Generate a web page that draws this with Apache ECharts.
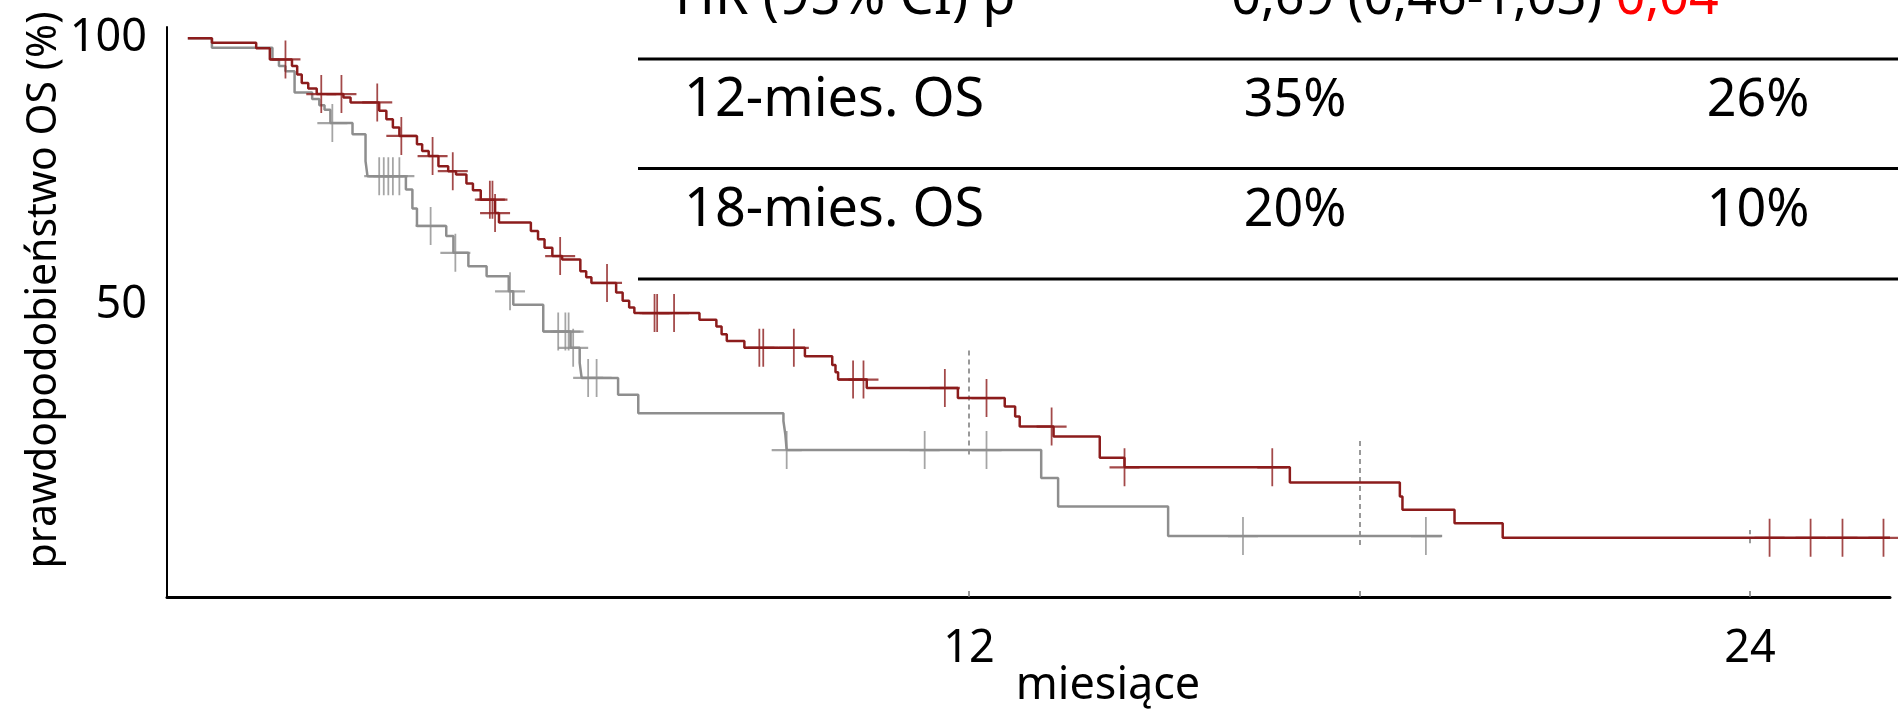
<!DOCTYPE html>
<html>
<head>
<meta charset="utf-8">
<script src="https://cdn.jsdelivr.net/npm/echarts@6/dist/echarts.min.js"></script>
<style>
html,body{margin:0;padding:0;background:#fff;}
#chart{width:1898px;height:711px;}
</style>
</head>
<body>
<div id="chart"></div>
<script>
// ---- Kaplan-Meier step data (months, % surviving) ----
const redT = [0, 0.37, 1.05, 1.26, 1.60, 1.68, 1.75, 1.85, 1.98, 2.39, 2.50, 2.94, 3.05, 3.15, 3.25, 3.52, 3.60, 3.70, 3.85, 4.00, 4.12, 4.28, 4.38, 4.50, 4.72, 4.78, 5.27, 5.38, 5.48, 5.60, 5.75, 6.03, 6.12, 6.20, 6.58, 6.68, 6.78, 6.86, 7.86, 8.12, 8.20, 8.28, 8.55, 9.48, 9.90, 9.95, 9.99, 10.43, 11.83, 12.55, 12.71, 12.78, 13.30, 14.01, 14.39, 16.93, 18.62, 18.66, 19.46, 20.20, 26.15];
const redS = [100, 99.2, 98.2, 96.2, 95.0, 93.5, 92.0, 91.0, 90.0, 89.4, 88.5, 87.0, 85.5, 84.0, 82.5, 81.0, 79.8, 78.9, 77.1, 76.2, 75.6, 74.0, 72.8, 71.1, 68.7, 67.0, 65.5, 64.0, 62.5, 61.0, 60.4, 58.3, 57.2, 56.2, 54.5, 53.0, 51.8, 50.8, 49.6, 48.4, 47.0, 45.8, 44.6, 43.1, 41.5, 40.2, 38.9, 37.4, 35.6, 34.1, 32.3, 30.5, 28.7, 24.9, 23.2, 20.5, 18.0, 15.6, 13.2, 10.6, 10.6];
const grayT = [0, 0.37, 1.30, 1.40, 1.50, 1.64, 1.91, 2.02, 2.10, 2.19, 2.53, 2.73, 2.76, 3.35, 3.45, 3.52, 3.97, 4.08, 4.31, 4.59, 4.93, 5.00, 5.46, 5.88, 6.02, 6.05, 6.61, 6.92, 9.15, 9.18, 9.20, 13.11, 13.37, 15.06, 19.27];
const grayS = [100, 98.3, 96.2, 95.0, 94.1, 90.3, 89.1, 88.0, 87.2, 84.8, 82.8, 78.0, 75.3, 72.9, 69.5, 66.4, 64.6, 61.6, 59.2, 57.4, 54.7, 52.3, 47.5, 44.6, 41.9, 39.2, 36.2, 32.9, 31.5, 29.0, 26.3, 21.3, 16.2, 10.9, 10.9];
// censored observations (months)
const redCensorT = [1.50, 2.05, 2.36, 2.91, 3.28, 3.76, 4.07, 4.64, 4.68, 4.72, 5.72, 6.44, 7.17, 7.21, 7.47, 8.78, 8.84, 9.31, 10.22, 10.38, 11.63, 12.27, 13.27, 14.39, 16.66, 24.30, 24.93, 25.42, 26.05];
const grayCensorT = [2.22, 2.94, 3.01, 3.08, 3.15, 3.25, 3.73, 4.11, 4.95, 5.69, 5.80, 5.85, 5.92, 6.15, 6.28, 9.20, 11.32, 12.27, 16.21, 19.02];
// dashed reference lines (month, low %, high %)
const refX = [12, 18, 24];
const refLow = [25.5, 9.3, 9.6];
const refHigh = [44.5, 28.3, 12.0];
// axis labels
const xLabelValues = [12, 24];
const xTickValues = [12, 18, 24];
const yLabelValues = [50, 100];
const xAxisTitle = 'miesiące';
const yAxisTitle = 'prawdopodobieństwo OS (%)';
// table
const tableHeader = 'HR (95% CI) p';
const tableHR = '0,69 (0,46-1,03) ';
const tableP = '0,04';
const rowLabels = ['12-mies. OS', '18-mies. OS'];
const redCol = ['35%', '20%'];
const grayCol = ['26%', '10%'];

function zip(a, b) { return a.map((v, i) => [v, b[i]]); }
function survAt(T, S, t) {
  let s = S[0];
  for (let i = 0; i < T.length; i++) { if (T[i] <= t) s = S[i]; else break; }
  return s;
}

const RED = '#8c1c1c';
const GRAY = '#8e8e8e';
const crossPath = 'path://M14,0L14,38M0,19L28,19';
const FONT = '"Noto Sans"';

const chart = echarts.init(document.getElementById('chart'), null, {renderer: 'canvas'});

const tableLinesY = [59, 168.5, 279];
const graphics = [];
tableLinesY.forEach(y => graphics.push({
  type: 'line', shape: {x1: 638, y1: y, x2: 1898, y2: y},
  style: {stroke: '#000', lineWidth: 3}
}));
graphics.push({type: 'text', x: 675, y: -1, style: {text: tableHeader, font: '54px ' + FONT, fill: '#000', verticalAlign: 'middle', align: 'left'}});
graphics.push({type: 'text', x: 1475, y: -1, style: {
  text: tableHR + '{r|' + tableP + '}',
  rich: {r: {fill: '#ff0000', font: '52px ' + FONT}},
  font: '52px ' + FONT, fill: '#000', verticalAlign: 'middle', align: 'center'}});
const rowY = [101, 211];
rowLabels.forEach((t, i) => {
  graphics.push({type: 'text', x: 684, y: rowY[i], style: {text: t, font: '54px ' + FONT, fill: '#000', verticalAlign: 'middle', align: 'left'}});
  graphics.push({type: 'text', x: 1295, y: rowY[i], style: {text: redCol[i], font: '52px ' + FONT, fill: '#000', verticalAlign: 'middle', align: 'center'}});
  graphics.push({type: 'text', x: 1758, y: rowY[i], style: {text: grayCol[i], font: '52px ' + FONT, fill: '#000', verticalAlign: 'middle', align: 'center'}});
});
graphics.push({type: 'text', x: 1108, y: 686, style: {text: xAxisTitle, font: '45px ' + FONT, fill: '#000', verticalAlign: 'middle', align: 'center'}});
graphics.push({type: 'text', x: 44, y: 290, rotation: Math.PI / 2, style: {text: yAxisTitle, font: '41px ' + FONT, fill: '#000', verticalAlign: 'middle', align: 'center'}});

const option = {
  animation: false,
  backgroundColor: '#fff',
  grid: {left: 167, right: 8, top: 27, bottom: 114, containLabel: false},
  xAxis: {
    type: 'value', min: -0.32, max: 26.15,
    axisLine: {show: true, onZero: false, lineStyle: {color: '#000', width: 3}},
    axisTick: {show: true, inside: true, length: 6, customValues: xTickValues, lineStyle: {color: '#777', width: 1.5, type: 'dashed'}},
    axisLabel: {show: true, customValues: xLabelValues, margin: 30, color: '#000', fontFamily: 'Noto Sans', fontSize: 45},
    splitLine: {show: false}
  },
  yAxis: {
    type: 'value', min: 0, max: 102,
    axisLine: {show: true, onZero: false, lineStyle: {color: '#000', width: 2}},
    axisTick: {show: false},
    axisLabel: {
      show: true, customValues: yLabelValues, margin: 20, color: '#000', fontFamily: 'Noto Sans', fontSize: 45,
      formatter: v => v === 50 ? '{up|50}' : '{n|' + v + '}',
      rich: {
        up: {fontFamily: 'Noto Sans', fontSize: 45, color: '#000', padding: [0, 0, 24, 0]},
        n: {fontFamily: 'Noto Sans', fontSize: 45, color: '#000', padding: [0, 0, 0, 0]}
      }
    },
    splitLine: {show: false}
  },
  graphic: graphics,
  series: [
    {
      type: 'lines', coordinateSystem: 'cartesian2d', silent: true, z: 1,
      lineStyle: {color: '#777', width: 1.5, type: [5, 4], opacity: 1},
      data: refX.map((x, i) => ({coords: [[x, refLow[i]], [x, refHigh[i]]]}))
    },
    {
      type: 'line', step: 'end', showSymbol: false, silent: true, z: 2,
      lineStyle: {color: GRAY, width: 2.5},
      data: zip(grayT, grayS)
    },
    {
      type: 'scatter', silent: true, z: 3,
      symbol: crossPath, symbolSize: [30, 38],
      itemStyle: {color: 'rgba(0,0,0,0)', borderColor: GRAY, borderWidth: 2},
      data: grayCensorT.map(t => [t, survAt(grayT, grayS, t)])
    },
    {
      type: 'line', step: 'end', showSymbol: false, silent: true, z: 4,
      lineStyle: {color: RED, width: 2.5},
      data: zip(redT, redS)
    },
    {
      type: 'scatter', silent: true, z: 5,
      symbol: crossPath, symbolSize: [30, 38],
      itemStyle: {color: 'rgba(0,0,0,0)', borderColor: RED, borderWidth: 2},
      data: redCensorT.map(t => [t, survAt(redT, redS, t)])
    }
  ]
};
chart.setOption(option);
</script>
</body>
</html>
